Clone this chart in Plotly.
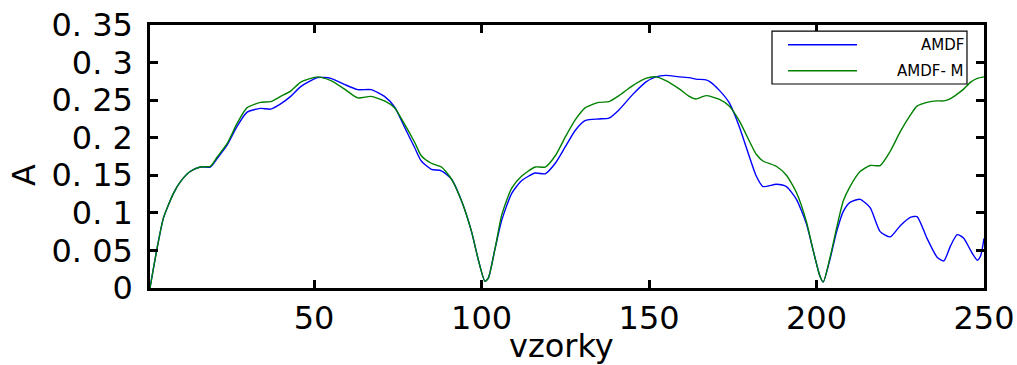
import plotly.graph_objects as go

# sample indices and values
amdf_x = [1, 3, 5, 8, 10, 13, 16, 19, 21, 24, 27, 30, 34, 37, 40, 43, 46, 51, 55, 59,
          63, 67, 71, 74, 77, 80, 82, 85, 88, 91, 94, 97, 99, 101, 102, 104, 106, 109,
          112, 116, 119, 122, 125, 128, 131, 135, 138, 141, 145, 149, 152, 155, 159, 162,
          164, 167, 168, 171, 174, 177, 180, 182, 184, 188, 191, 194, 197, 199, 201, 202,
          204, 206, 208, 210, 213, 216, 219, 222, 225, 228, 230, 233, 236, 238, 240, 242,
          244, 246, 248, 249, 250]
amdf_y = [0.0, 0.05, 0.093, 0.126, 0.141, 0.155, 0.161, 0.161, 0.172, 0.190, 0.215, 0.234,
          0.239, 0.238, 0.245, 0.255, 0.268, 0.280, 0.279, 0.271, 0.264, 0.264, 0.255, 0.241,
          0.214, 0.187, 0.169, 0.158, 0.156, 0.145, 0.116, 0.075, 0.038, 0.009, 0.013, 0.052,
          0.090, 0.126, 0.143, 0.153, 0.152, 0.166, 0.188, 0.210, 0.223, 0.225, 0.226, 0.237,
          0.257, 0.274, 0.281, 0.283, 0.281, 0.280, 0.278, 0.277, 0.275, 0.263, 0.246, 0.214,
          0.174, 0.149, 0.135, 0.138, 0.135, 0.118, 0.085, 0.050, 0.016, 0.008, 0.038, 0.075,
          0.102, 0.114, 0.118, 0.107, 0.075, 0.068, 0.083, 0.094, 0.095, 0.066, 0.041, 0.036,
          0.056, 0.071, 0.066, 0.050, 0.037, 0.043, 0.066]

amdfm_x = [1, 3, 5, 8, 10, 13, 16, 19, 21, 24, 27, 30, 34, 37, 40, 43, 46, 51, 55, 59,
           63, 67, 71, 74, 77, 80, 82, 85, 88, 91, 94, 97, 99, 101, 102, 104, 106, 109,
           112, 116, 119, 122, 125, 128, 131, 135, 138, 141, 145, 149, 152, 155, 159, 162,
           164, 167, 171, 174, 177, 180, 182, 184, 188, 191, 194, 197, 199, 201, 202, 204,
           206, 208, 210, 213, 216, 219, 222, 225, 228, 230, 233, 236, 238, 240, 242, 244,
           246, 248, 250]
amdfm_y = [0.0, 0.05, 0.093, 0.126, 0.141, 0.155, 0.161, 0.162, 0.174, 0.192, 0.219, 0.240,
           0.247, 0.248, 0.255, 0.262, 0.274, 0.281, 0.276, 0.265, 0.253, 0.255, 0.249, 0.240,
           0.218, 0.194, 0.176, 0.166, 0.161, 0.145, 0.116, 0.075, 0.038, 0.009, 0.013, 0.052,
           0.097, 0.133, 0.149, 0.161, 0.161, 0.176, 0.201, 0.224, 0.240, 0.247, 0.248, 0.256,
           0.269, 0.279, 0.281, 0.276, 0.265, 0.255, 0.2515, 0.256, 0.251, 0.242, 0.222, 0.195,
           0.178, 0.169, 0.162, 0.150, 0.127, 0.088, 0.050, 0.016, 0.008, 0.040, 0.080, 0.116,
           0.135, 0.155, 0.163, 0.163, 0.182, 0.208, 0.230, 0.242, 0.247, 0.249, 0.249, 0.252,
           0.258, 0.265, 0.274, 0.279, 0.281]

x_ticks = [50, 100, 150, 200, 250]
x_ticktext = ["50", "100", "150", "200", "250"]
y_ticks = [0, 0.05, 0.1, 0.15, 0.2, 0.25, 0.3, 0.35]
y_ticktext = ["0", "0. 05", "0. 1", "0. 15", "0. 2", "0. 25", "0. 3", "0. 35"]
series_names = ["AMDF", "AMDF- M"]
series_colors = ["#0000ff", "#008000"]

FONT = "DejaVu Sans"

fig = go.Figure()
fig.add_trace(go.Scatter(x=amdf_x, y=amdf_y, mode="lines", name=series_names[0],
                         line=dict(color=series_colors[0], width=1.4, shape="spline", smoothing=0.6)))
fig.add_trace(go.Scatter(x=amdfm_x, y=amdfm_y, mode="lines", name=series_names[1],
                         line=dict(color=series_colors[1], width=1.4, shape="spline", smoothing=0.6)))

axis_common = dict(showline=True, linecolor="black", linewidth=2.5, mirror="ticks",
                   ticks="inside", ticklen=8, tickwidth=2.5, tickcolor="black",
                   showgrid=False, zeroline=False, automargin=False,
                   tickfont=dict(family=FONT, size=32, color="black"))

fig.update_xaxes(range=[1, 250], tickvals=x_ticks, ticktext=x_ticktext,
                 ticklabelstandoff=0, **axis_common)
fig.update_yaxes(range=[0, 0.35], tickvals=y_ticks, ticktext=y_ticktext,
                 ticklabelstandoff=8, **axis_common)

# legend drawn as box + sample lines + right aligned labels
shapes = [
    dict(type="rect", xref="paper", yref="paper", x0=0.7458, x1=0.9796, y0=0.7757, y1=0.977,
         line=dict(color="black", width=1.2), fillcolor="white", layer="above"),
    dict(type="line", xref="paper", yref="paper", x0=0.765, x1=0.8477, y0=0.925, y1=0.925,
         line=dict(color=series_colors[0], width=1.3), layer="above"),
    dict(type="line", xref="paper", yref="paper", x0=0.765, x1=0.8477, y0=0.826, y1=0.826,
         line=dict(color=series_colors[1], width=1.3), layer="above"),
]
annotations = [
    dict(text=series_names[0], xref="paper", yref="paper", x=0.978, y=0.925,
         xanchor="right", yanchor="middle", showarrow=False,
         font=dict(family=FONT, size=15, color="black")),
    dict(text=series_names[1], xref="paper", yref="paper", x=0.978, y=0.826,
         xanchor="right", yanchor="middle", showarrow=False,
         font=dict(family=FONT, size=15, color="black")),
    dict(text="vzorky", xref="paper", yref="paper", x=0.493, y=-0.2205,
         xanchor="center", yanchor="middle", showarrow=False,
         font=dict(family=FONT, size=32, color="black")),
    dict(text="A", xref="paper", yref="paper", x=-0.151, y=0.4297, textangle=-90,
         xanchor="center", yanchor="middle", showarrow=False,
         font=dict(family=FONT, size=32, color="black")),
]

fig.update_layout(width=1017, height=365, margin=dict(l=150, r=33, t=25, b=77, pad=0),
                  paper_bgcolor="white", plot_bgcolor="white", showlegend=False,
                  shapes=shapes, annotations=annotations)

fig.write_html("out.html")
